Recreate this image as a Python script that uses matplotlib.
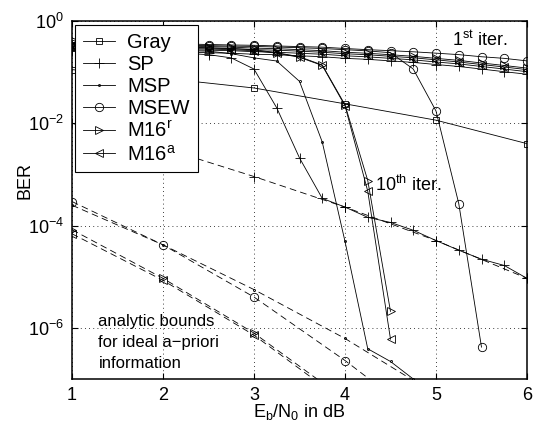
import numpy as np
import matplotlib
matplotlib.use('Agg')
import matplotlib.pyplot as plt

plt.rcParams['font.family'] = ['Liberation Sans', 'DejaVu Sans']
plt.rcParams['mathtext.fontset'] = 'custom'
plt.rcParams['mathtext.rm'] = 'Liberation Sans'
plt.rcParams['mathtext.it'] = 'Liberation Sans:italic'
plt.rcParams['mathtext.default'] = 'regular'

# Eb/N0 grid of the simulations (dB)
ebn0 = [1.0, 1.25, 1.5, 1.75, 2.0, 2.25, 2.5, 2.75, 3.0, 3.25, 3.5,
        3.75, 4.0, 4.25, 4.5, 4.75, 5.0, 5.25, 5.5, 5.75, 6.0]
ebn0_int = [1, 2, 3, 4, 5, 6]

# Gray mapping (no gain from iterations)
gray = [0.112, 0.076, 0.049, 0.024, 0.0115, 0.004]

# 1st iteration
sp_1 = [0.275, 0.269, 0.263, 0.257, 0.251, 0.246, 0.24, 0.234, 0.224, 0.219, 0.209,
        0.2, 0.186, 0.178, 0.166, 0.155, 0.141, 0.129, 0.115, 0.102, 0.091]
msp_1 = [0.309, 0.302, 0.295, 0.288, 0.282, 0.275, 0.269, 0.263, 0.251, 0.245, 0.234,
         0.224, 0.209, 0.199, 0.186, 0.174, 0.158, 0.145, 0.129, 0.115, 0.102]
msew_1 = [0.38, 0.37, 0.37, 0.365, 0.36, 0.355, 0.347, 0.34, 0.335, 0.325, 0.316,
          0.308, 0.29, 0.275, 0.263, 0.25, 0.235, 0.22, 0.2, 0.186, 0.166]
m16r_1 = [0.363, 0.355, 0.347, 0.339, 0.331, 0.324, 0.316, 0.309, 0.295, 0.288, 0.275,
          0.263, 0.245, 0.234, 0.219, 0.204, 0.186, 0.17, 0.151, 0.135, 0.12]
m16a_1 = [0.339, 0.331, 0.324, 0.316, 0.309, 0.302, 0.295, 0.288, 0.275, 0.269, 0.257,
          0.245, 0.229, 0.219, 0.204, 0.191, 0.174, 0.158, 0.141, 0.126, 0.112]

# 10th iteration
sp_10 = [0.262, 0.256, 0.25, 0.244, 0.238, 0.232, 0.22, 0.19, 0.115, 0.02, 2.1e-3,
         3.4e-4, 2.3e-4, 1.45e-4, 1.15e-4, 8.1e-5, 5.1e-5, 3.3e-5, 2.2e-5, 1.66e-5, 9.3e-6]
msp_10 = [0.295, 0.288, 0.282, 0.275, 0.269, 0.263, 0.257, 0.23, 0.19, 0.165, 0.066,
          4.3e-3, 4.9e-5, 3.9e-7, 2.2e-7, 1.0e-7]
msew_10 = [0.36, 0.352, 0.35, 0.345, 0.34, 0.335, 0.33, 0.323, 0.318, 0.31, 0.3,
           0.29, 0.275, 0.26, 0.24, 0.115, 0.0174, 2.7e-4, 4.2e-7]
m16r_10 = [0.345, 0.337, 0.33, 0.322, 0.315, 0.308, 0.3, 0.29, 0.275, 0.24, 0.2,
           0.138, 0.023, 7.6e-4, 2.1e-6]
m16a_10 = [0.325, 0.318, 0.31, 0.303, 0.296, 0.29, 0.283, 0.275, 0.262, 0.235, 0.195,
           0.135, 0.022, 4.7e-4, 6.0e-7]

# analytic bounds (ideal a-priori information)
sp_bnd = [1.0e-2, 3.3e-3, 9.1e-4, 2.3e-4, 5.1e-5, 9.3e-6]
msp_bnd = [2.5e-4, 4.2e-5, 5.6e-6, 6.2e-7, 5e-8]
msew_bnd = [2.95e-4, 4.2e-5, 4.0e-6, 2.3e-7, 1e-8]
m16r_bnd = [8.3e-5, 9.3e-6, 7.9e-7, 4e-8]
m16a_bnd = [6.9e-5, 8.5e-6, 7.2e-7, 3.5e-8]

fig = plt.figure(figsize=(5.37, 4.26), dpi=100)
ax = fig.add_axes([72 / 537, 1 - 379 / 426, 455 / 537, 358 / 426])

lw = 0.6
ms = 6
dash = (0, (8, 5))
mk = dict(mfc='none', mec='k', mew=0.6)

ax.plot(ebn0_int, gray, 'k-', marker='s', ms=5, lw=lw, label='Gray', **mk)

schemes = [
    ('SP', '+', 7, sp_1, sp_10, sp_bnd),
    ('MSP', '.', 3, msp_1, msp_10, msp_bnd),
    ('MSEW', 'o', ms, msew_1, msew_10, msew_bnd),
    ('M16$^r$', '>', ms, m16r_1, m16r_10, m16r_bnd),
    ('M16$^a$', '<', ms, m16a_1, m16a_10, m16a_bnd),
]
for name, m, size, first, tenth, bnd in schemes:
    ax.plot(ebn0[:len(first)], first, 'k-', marker=m, ms=size, lw=lw, label=name, **mk)
    ax.plot(ebn0[:len(tenth)], tenth, 'k-', marker=m, ms=size, lw=lw, **mk)
    ax.plot(ebn0_int[:len(bnd)], bnd, color='k', ls=dash, marker=m, ms=size, lw=lw, **mk)

ax.set_xlim(1, 6)
ax.set_ylim(1e-7, 1)
ax.set_yscale('log')
ax.set_xticks([1, 2, 3, 4, 5, 6])
ax.set_yticks([1e0, 1e-2, 1e-4, 1e-6])
ax.yaxis.set_minor_locator(matplotlib.ticker.NullLocator())
ax.tick_params(direction='in', length=4, width=0.8, top=True, right=True,
               labelsize=13, pad=6)
ax.grid(True, color='k', ls=(0, (1, 4)), lw=0.6)
for s in ax.spines.values():
    s.set_linewidth(1.1)

ax.set_xlabel('E$_b$/N$_0$ in dB', fontsize=13, labelpad=-2)
ax.set_ylabel('BER', fontsize=13)
ax.yaxis.set_label_coords(-0.085, 0.555)

ax.text(5.18, 0.33, '1$^{st}$ iter.', fontsize=13, va='baseline')
ax.text(4.33, 4.7e-4, '10$^{th}$ iter.', fontsize=13, va='baseline')
ax.text(1.29, 1.9e-6, 'analytic bounds\nfor ideal a\u2212priori\ninformation',
        fontsize=12, va='top', linespacing=1.5)

leg = ax.legend(loc='upper left', bbox_to_anchor=(3 / 455, 1 - 4 / 358),
                borderaxespad=0, fontsize=14.5, handlelength=1.6,
                handletextpad=0.6, labelspacing=0.15, borderpad=0.4,
                fancybox=False, framealpha=1, edgecolor='k')
leg.get_frame().set_linewidth(0.8)

fig.savefig('out.png', dpi=100)
